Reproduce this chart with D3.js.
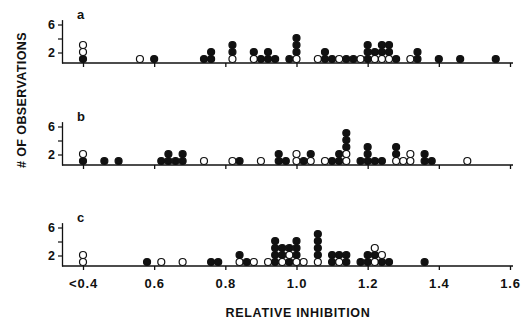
<!DOCTYPE html>
<html>
<head>
<meta charset="utf-8">
<script src="https://cdn.jsdelivr.net/npm/d3@7"></script>
<style>
  body { margin: 0; background: #fff; }
  svg { font-family: "Liberation Sans", Arial, sans-serif; font-weight: bold; }
</style>
</head>
<body>
<div id="chart"></div>
<script>
// stacks are read bottom-up: F = filled circle, O = open circle
const panelLabels = ['a', 'b', 'c'];

const aValues = [0.40, 0.56, 0.60, 0.74, 0.76, 0.82, 0.88, 0.90, 0.92, 0.94, 0.98, 1.00, 1.06, 1.08, 1.10,
    1.12, 1.14, 1.16, 1.18, 1.20, 1.22, 1.24, 1.26, 1.28, 1.32, 1.34, 1.40, 1.46, 1.56];
const aStacks = ['FOO', 'O', 'F', 'F', 'FF', 'OFF', 'OF', 'F', 'FF', 'F', 'F', 'OFFF', 'O', 'FF', 'F',
    'O', 'F', 'F', 'O', 'FFF', 'OF', 'OFF', 'OFF', 'F', 'O', 'FF', 'F', 'F', 'F'];

const bValues = [0.40, 0.46, 0.50, 0.62, 0.64, 0.66, 0.68, 0.74, 0.82, 0.84, 0.90, 0.95, 0.97, 1.00, 1.02,
    1.04, 1.08, 1.10, 1.12, 1.14, 1.18, 1.20, 1.22, 1.24, 1.28, 1.30, 1.32, 1.36, 1.38, 1.48];
const bStacks = ['FO', 'F', 'F', 'F', 'FF', 'F', 'FF', 'O', 'O', 'F', 'O', 'FF', 'F', 'OO', 'F',
    'OF', 'O', 'F', 'FF', 'OOFFF', 'F', 'FFF', 'F', 'F', 'OFF', 'O', 'OO', 'FF', 'F', 'O'];

const cValues = [0.40, 0.58, 0.62, 0.68, 0.76, 0.78, 0.84, 0.86, 0.88, 0.92, 0.94, 0.96, 0.98, 1.00, 1.02,
    1.06, 1.10, 1.12, 1.14, 1.18, 1.20, 1.22, 1.24, 1.26, 1.36];
const cStacks = ['OO', 'F', 'O', 'O', 'F', 'F', 'OF', 'F', 'O', 'O', 'FFFF', 'OFF', 'FOF', 'OFFF', 'O',
    'OFFFF', 'FF', 'OF', 'FF', 'F', 'FF', 'OFO', 'FO', 'F', 'F'];

const xTicks = [0.4, 0.6, 0.8, 1.0, 1.2, 1.4, 1.6];
const yTicks = [2, 4, 6];
const yLabelled = [2, 6];

const panels = [
    { label: panelLabels[0], values: aValues, stacks: aStacks },
    { label: panelLabels[1], values: bValues, stacks: bStacks },
    { label: panelLabels[2], values: cValues, stacks: cStacks }
];

const width = 522;
const height = 320;
const ink = '#111';
const baselines = [63, 165, 266];
const axisLeftX = 62;
const axisRightX = 513;
const unit = 7;
const r = 3.5;

const x = d3.scaleLinear().domain([0.4, 1.6]).range([83, 510]);

const svg = d3.select('#chart')
    .append('svg')
    .attr('width', width)
    .attr('height', height);

panels.forEach((p, i) => {
    const base = baselines[i];
    const y = d3.scaleLinear()
        .domain([0.5, 6.7])
        .range([base, base - 6.2 * unit]);

    const g = svg.append('g');

    // baseline
    g.append('line')
        .attr('x1', axisLeftX)
        .attr('x2', axisRightX)
        .attr('y1', base)
        .attr('y2', base)
        .attr('stroke', ink)
        .attr('stroke-width', 1.4);

    // x ticks (labels only on bottom panel)
    const xAxis = g.append('g')
        .attr('transform', `translate(0,${base})`)
        .call(d3.axisBottom(x)
            .tickValues(xTicks)
            .tickSize(4)
            .tickSizeOuter(0)
            .tickPadding(9)
            .tickFormat(d => i < 2 ? '' : (d === 0.4 ? '<0.4' : d3.format('.1f')(d))));
    xAxis.select('.domain').remove();
    xAxis.selectAll('line').attr('stroke', ink).attr('stroke-width', 1.3);
    xAxis.selectAll('text')
        .attr('fill', ink)
        .attr('font-size', '13px')
        .attr('font-weight', 'bold')
        .attr('font-family', '"Liberation Sans", Arial, sans-serif')
        .attr('letter-spacing', '0.8px');

    // y axis
    const yAxis = g.append('g')
        .attr('transform', `translate(${axisLeftX},0)`)
        .call(d3.axisLeft(y)
            .tickValues(yTicks)
            .tickSize(4)
            .tickSizeOuter(0)
            .tickPadding(3)
            .tickFormat(d => yLabelled.includes(d) ? d : ''));
    yAxis.select('.domain').attr('stroke', ink).attr('stroke-width', 1.3);
    yAxis.selectAll('line').attr('stroke', ink).attr('stroke-width', 1.2);
    yAxis.selectAll('text')
        .attr('fill', ink)
        .attr('font-size', '12.5px')
        .attr('font-weight', 'bold')
        .attr('font-family', '"Liberation Sans", Arial, sans-serif');

    // panel letter
    g.append('text')
        .attr('x', 77)
        .attr('y', base - 44)
        .attr('font-size', '13px')
        .attr('fill', ink)
        .text(p.label);

    // dots
    const dots = [];
    p.values.forEach((v, j) => {
        p.stacks[j].split('').forEach((t, k) => {
            dots.push({ v: v, k: k + 1, filled: t === 'F' });
        });
    });

    g.append('g').selectAll('circle')
        .data(dots)
        .enter()
        .append('circle')
        .attr('cx', d => x(d.v))
        .attr('cy', d => y(d.k) - 0.5)
        .attr('r', r)
        .attr('fill', d => d.filled ? ink : '#fff')
        .attr('stroke', ink)
        .attr('stroke-width', 1.2);
});

// x-axis title
svg.append('text')
    .attr('x', 298)
    .attr('y', 317)
    .attr('text-anchor', 'middle')
    .attr('font-size', '12.5px')
    .attr('letter-spacing', '0.7px')
    .attr('fill', ink)
    .text('RELATIVE INHIBITION');

// y-axis title
svg.append('text')
    .attr('transform', 'rotate(-90)')
    .attr('x', -100)
    .attr('y', 26)
    .attr('text-anchor', 'middle')
    .attr('font-size', '12.5px')
    .attr('letter-spacing', '0.4px')
    .attr('fill', ink)
    .text('# OF OBSERVATIONS');
</script>
</body>
</html>
